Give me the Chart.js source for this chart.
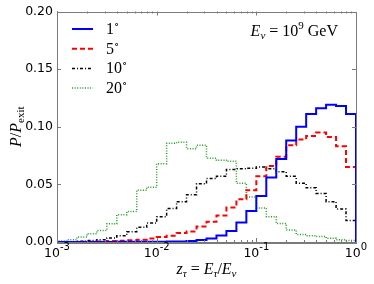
<!DOCTYPE html>
<html>
<head>
<meta charset="utf-8">
<script src="https://cdn.jsdelivr.net/npm/chart.js@4.4.0/dist/chart.umd.min.js"></script>
<style>
  body { margin: 0; background: #fff; }
  canvas { display: block; }
</style>
</head>
<body>
<canvas id="chart" width="374" height="284" style="width:374px;height:284px"></canvas>
<script>
// 30 log bins, 10 per decade, from 1e-3 to 1
const binEdges = Array.from({ length: 31 }, (_, i) => Math.pow(10, -3 + i / 10));

const seriesLabels = ['1', '5', '10', '20'];

const deg1 = [0.0001, 0.0001, 0.0001, 0.0001, 0.0001, 0.0001, 0.0002, 0.0002, 0.0002, 0.0003,
    0.0003, 0.0004, 0.0005, 0.0008, 0.0018, 0.003, 0.0057, 0.0095, 0.017, 0.027,
    0.040, 0.056, 0.072, 0.088, 0.100, 0.111, 0.116, 0.119, 0.118, 0.111];
const deg5 = [0.0001, 0.0001, 0.0002, 0.0003, 0.0005, 0.0008, 0.0011, 0.0015, 0.002, 0.0031,
    0.0043, 0.0055, 0.0078, 0.0092, 0.0135, 0.0175, 0.023, 0.030, 0.037, 0.045,
    0.057, 0.066, 0.074, 0.084, 0.089, 0.092, 0.095, 0.091, 0.083, 0.065];
const deg10 = [0.0002, 0.0003, 0.0006, 0.0012, 0.002, 0.0035, 0.0055, 0.009, 0.0127, 0.0164,
    0.022, 0.029, 0.035, 0.041, 0.0505, 0.055, 0.057, 0.063, 0.0635, 0.064,
    0.065, 0.0635, 0.061, 0.057, 0.051, 0.047, 0.042, 0.035, 0.0286, 0.0187];
const deg20 = [0.0009, 0.002, 0.0043, 0.0072, 0.010, 0.0158, 0.0236, 0.0265, 0.045, 0.0476,
    0.068, 0.0857, 0.0866, 0.081, 0.084, 0.0727, 0.071, 0.070, 0.051, 0.039,
    0.0294, 0.022, 0.016, 0.0105, 0.0065, 0.0055, 0.0048, 0.0033, 0.002, 0.0012];

const xTicks = [0.001, 0.01, 0.1, 1];
const xTickExp = ['-3', '-2', '-1', '0'];
const yTicks = [0, 0.05, 0.10, 0.15, 0.20];

const frameColor = '#7a7a7a';

// step histogram points: left edge of each bin, then close at the right edge
function stepPoints(vals) {
    const pts = [{ x: binEdges[0], y: 0 }];
    vals.forEach((v, i) => pts.push({ x: binEdges[i], y: v }));
    pts.push({ x: binEdges[vals.length], y: vals[vals.length - 1] });
    pts.push({ x: binEdges[vals.length], y: 0 });
    return pts;
}

const styles = [
    { color: '#0000ff', width: 2, dash: [] },
    { color: '#ff0000', width: 2, dash: [5, 3] },
    { color: '#000000', width: 1.5, dash: [3, 2, 1, 2] },
    { color: '#22a022', width: 1.5, dash: [1, 1.6] }
];

const datasets = [deg1, deg5, deg10, deg20].map((vals, i) => ({
    label: seriesLabels[i],
    data: stepPoints(vals),
    borderColor: styles[i].color,
    borderWidth: styles[i].width,
    borderDash: styles[i].dash,
    stepped: true,
    pointRadius: 0,
    fill: false
}));

// draw a run of text pieces (for sub/superscripts)
function runWidth(ctx, parts) {
    return parts.reduce((w, p) => { ctx.font = p.font; return w + ctx.measureText(p.t).width; }, 0);
}
function drawRun(ctx, parts, x, y) {
    parts.forEach(p => {
        ctx.font = p.font;
        ctx.fillText(p.t, x, y + (p.dy || 0));
        x += ctx.measureText(p.t).width;
    });
}

const serif = '"Liberation Serif", "DejaVu Serif", serif';
const sans = '"DejaVu Sans", sans-serif';
const it = 'italic 16px ' + serif;
const rm = '16px ' + serif;
const sub = 'italic 11px ' + serif;
const subRm = '11px ' + serif;

const framePlugin = {
    id: 'frame',
    afterDraw(chart) {
        const { ctx, chartArea: a, scales: { x, y } } = chart;
        ctx.save();
        ctx.strokeStyle = frameColor;
        ctx.lineWidth = 1;
        ctx.beginPath();
        // major and minor ticks on the log axis, top and bottom, pointing in
        for (let d = -3; d < 0; d++) {
            for (let m = 1; m <= 9; m++) {
                const px = Math.round(x.getPixelForValue(m * Math.pow(10, d))) + 0.5;
                const len = m === 1 ? 4 : 2;
                ctx.moveTo(px, a.bottom); ctx.lineTo(px, a.bottom - len);
                ctx.moveTo(px, a.top); ctx.lineTo(px, a.top + len);
            }
        }
        yTicks.forEach(v => {
            const py = Math.round(y.getPixelForValue(v)) + 0.5;
            ctx.moveTo(a.left, py); ctx.lineTo(a.left + 4, py);
            ctx.moveTo(a.right, py); ctx.lineTo(a.right - 4, py);
        });
        ctx.stroke();
        ctx.strokeRect(Math.round(a.left) + 0.5, Math.round(a.top) + 0.5,
            Math.round(a.right - a.left), Math.round(a.bottom - a.top));

        ctx.fillStyle = '#000';
        ctx.textBaseline = 'alphabetic';

        // x tick labels, 10 with a superscript exponent
        xTicks.forEach((v, i) => {
            const parts = [{ t: '10', font: '12.5px ' + sans }, { t: xTickExp[i], font: '10px ' + sans, dy: -7 }];
            drawRun(ctx, parts, x.getPixelForValue(v) - runWidth(ctx, parts) / 2, a.bottom + 15);
        });

        // x title
        const xt = [
            { t: 'z', font: it }, { t: '\u03C4', font: sub, dy: 3 },
            { t: ' = ', font: rm }, { t: 'E', font: it }, { t: '\u03C4', font: sub, dy: 3 },
            { t: '/', font: rm }, { t: 'E', font: it }, { t: '\u03BD', font: sub, dy: 3 }
        ];
        drawRun(ctx, xt, (a.left + a.right) / 2 - runWidth(ctx, xt) / 2, 274);

        // y title
        const yt = [
            { t: 'P', font: it }, { t: '/', font: rm }, { t: 'P', font: it },
            { t: 'exit', font: subRm, dy: 3 }
        ];
        ctx.save();
        ctx.translate(21, (a.top + a.bottom) / 2);
        ctx.rotate(-Math.PI / 2);
        drawRun(ctx, yt, -runWidth(ctx, yt) / 2, 0);
        ctx.restore();

        // energy note
        const note = [
            { t: 'E', font: it }, { t: '\u03BD', font: sub, dy: 3 }, { t: ' = 10', font: rm },
            { t: '9', font: subRm, dy: -7 }, { t: ' GeV', font: rm }
        ];
        drawRun(ctx, note, 338 - runWidth(ctx, note), 36);

        // legend
        chart.data.datasets.forEach((ds, i) => {
            const ly = 29 + i * 19.7;
            ctx.save();
            ctx.strokeStyle = ds.borderColor;
            ctx.lineWidth = ds.borderWidth;
            ctx.setLineDash(ds.borderDash);
            ctx.beginPath();
            ctx.moveTo(72, ly); ctx.lineTo(93, ly);
            ctx.stroke();
            ctx.restore();
            drawRun(ctx, [{ t: ds.label, font: rm }, { t: '\u2218', font: '11px ' + serif, dy: -6 }], 106, ly + 5);
        });
        ctx.restore();
    }
};

const tickFont = { family: sans, size: 12.5 };

new Chart(document.getElementById('chart'), {
    type: 'line',
    data: { datasets },
    options: {
        responsive: false,
        animation: false,
        layout: { padding: { top: 11, right: 18, left: 0, bottom: 0 } },
        plugins: { legend: { display: false }, tooltip: { enabled: false } },
        scales: {
            x: {
                type: 'logarithmic',
                min: 0.001,
                max: 1,
                afterBuildTicks: s => { s.ticks = xTicks.map(v => ({ value: v })); },
                afterFit: s => { s.height = 42; },
                ticks: { display: false },
                grid: { display: false, drawTicks: false },
                border: { color: frameColor }
            },
            y: {
                min: 0,
                max: 0.2,
                afterBuildTicks: s => { s.ticks = yTicks.map(v => ({ value: v })); },
                afterFit: s => { s.width = 57; },
                ticks: {
                    padding: 4,
                    color: '#000',
                    font: tickFont,
                    callback: v => v.toFixed(2)
                },
                grid: { display: false, drawTicks: false },
                border: { color: frameColor }
            }
        }
    },
    plugins: [framePlugin]
});
</script>
</body>
</html>
